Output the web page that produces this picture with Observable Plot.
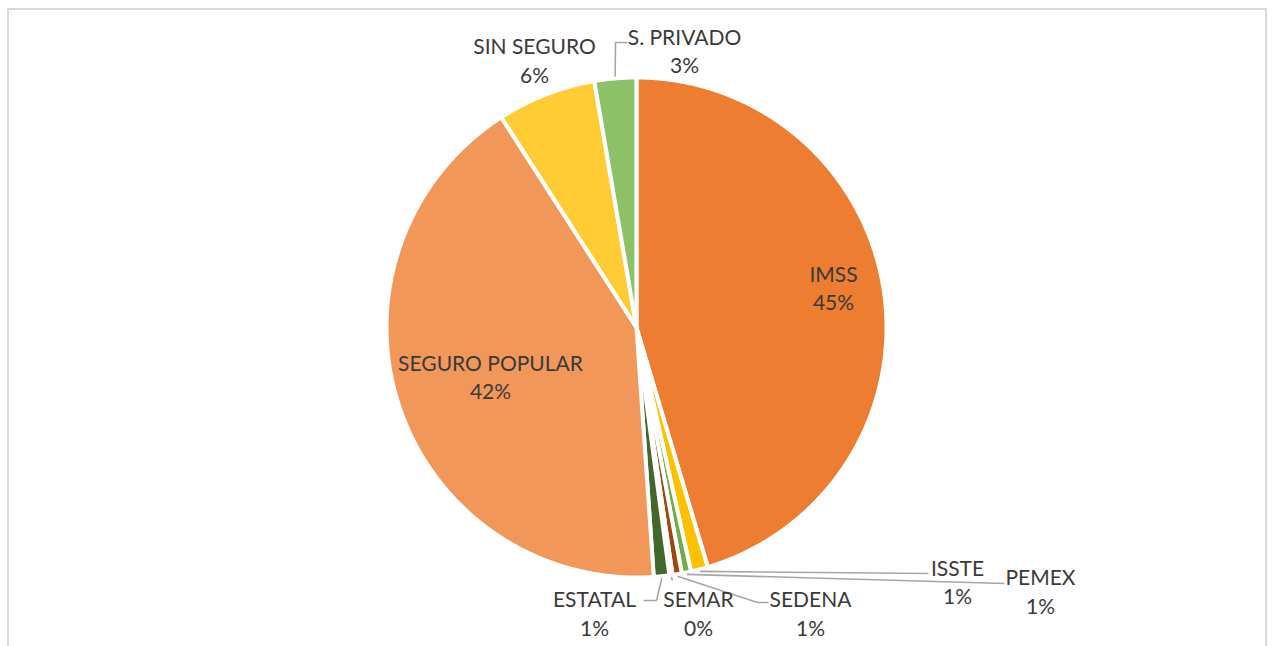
<!DOCTYPE html>
<html><head><meta charset="utf-8">
<script src="https://cdn.jsdelivr.net/npm/d3@7"></script>
<script src="https://cdn.jsdelivr.net/npm/@observablehq/plot@0.6"></script>
<style>
html,body{margin:0;padding:0;background:#fff;overflow:hidden;}
#chart{position:relative;width:1272px;height:646px;}
#frame{position:absolute;left:7px;top:8px;width:1256px;height:700px;border:2px solid #d9d9d9;border-bottom:none;pointer-events:none;box-sizing:content-box;}
</style></head><body>
<div id="chart"><div id="frame"></div></div>
<script>
// ---- data ----
const categories = ["IMSS","ISSTE","PEMEX","SEDENA","SEMAR","ESTATAL","SEGURO POPULAR","SIN SEGURO","S. PRIVADO"];
const values     = [45.4, 1.1, 0.6, 0.6, 0.2, 1.0, 42.0, 6.4, 2.7];
const colors     = ["#ED7D31","#FFC000","#70AD47","#9E480E","#997300","#43682B","#F1975A","#FFCD33","#8CC168"];

// ---- layout (pixel positions in the picture, not data) ----
const W = 1272, H = 646, CX = 636, CY = 327, R = 250;
const labelPos = {
  "IMSS": [833, 286.5],
  "ISSTE": [957, 580.5],
  "PEMEX": [1040, 590],
  "SEDENA": [810, 612],
  "SEMAR": [698, 612],
  "ESTATAL": [594, 612],
  "SEGURO POPULAR": [490, 375.5],
  "SIN SEGURO": [534, 59],
  "S. PRIVADO": [684, 49.5]
};
const leaderPath = {
  "ISSTE": [[928, 573]],
  "PEMEX": [[1004, 583]],
  "SEDENA": [[757, 602], [768, 602]],
  "SEMAR": [[672, 580]],
  "ESTATAL": [[656, 600], [643, 600]],
  "S. PRIVADO": [[615, 42], [627, 42]]
};

// ---- build geometry from data ----
const total = d3.sum(values);
const toRad = a => a * Math.PI / 180;
const polar = (deg, r) => ({x: r * Math.sin(toRad(deg)), y: r * Math.cos(toRad(deg))});
const px = ([X, Y]) => ({x: X - CX, y: CY - Y});

let acc = 0;
const slices = categories.map((name, i) => {
  const a0 = acc / total * 360;
  acc += values[i];
  const a1 = acc / total * 360;
  return {name, value: values[i], a0, a1, mid: (a0 + a1) / 2};
});

const slicePts = [];
for (const s of slices) {
  slicePts.push({name: s.name, x: 0, y: 0});
  const n = Math.max(2, Math.ceil((s.a1 - s.a0) / 0.25));
  for (let k = 0; k <= n; k++) {
    const p = polar(s.a0 + (s.a1 - s.a0) * k / n, R);
    slicePts.push({name: s.name, ...p});
  }
}

const leaderPts = [];
for (const s of slices) {
  const path = leaderPath[s.name];
  if (!path) continue;
  leaderPts.push({name: s.name, ...polar(s.mid, R + 2)});
  for (const q of path) leaderPts.push({name: s.name, ...px(q)});
}

const labels = slices.map(s => ({
  name: s.name,
  ...px(labelPos[s.name]),
  text: `${s.name}\n${Math.round(s.value)}%`
}));

const chart = Plot.plot({
  width: W, height: H,
  margin: 0,
  x: {domain: [-CX, W - CX], axis: null},
  y: {domain: [CY - H, CY], axis: null},
  color: {domain: categories, range: colors},
  style: {background: "transparent", overflow: "visible"},
  marks: [
    Plot.line(slicePts, {x: "x", y: "y", z: "name", fill: "name", stroke: "white", strokeWidth: 4, strokeLinejoin: "round", curve: "linear-closed"}),
    Plot.line(leaderPts, {x: "x", y: "y", z: "name", stroke: "#a6a6a6", strokeWidth: 1.6, strokeLinejoin: "miter", strokeLinecap: "butt"}),
    Plot.text(labels, {x: "x", y: "y", text: "text", fontSize: 21, fontFamily: "Lato", fill: "#3a3a3a", lineHeight: 1.35, textAnchor: "middle"})
  ]
});
document.getElementById("chart").insertBefore(chart, document.getElementById("frame"));
chart.style.position = "absolute";
chart.style.left = "0px";
chart.style.top = "0px";
</script>
</body></html>
